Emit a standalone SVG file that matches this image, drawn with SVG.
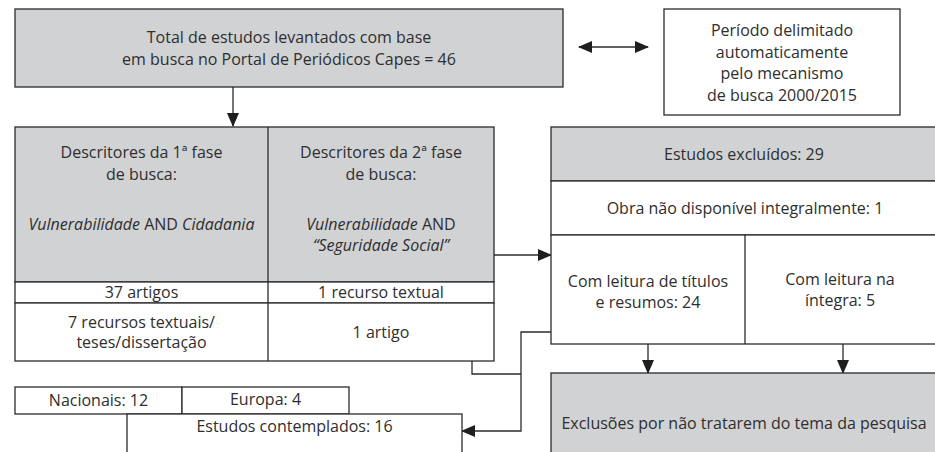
<svg xmlns="http://www.w3.org/2000/svg" width="935" height="452" viewBox="0 0 935 452">
<style>
.box{stroke:#2b2b2b;stroke-width:1.3}
.g{fill:#d1d2d4}
.w{fill:#ffffff}
.ln{stroke:#2b2b2b;stroke-width:1.3;fill:none}
text{font-family:"Open Sans","Liberation Sans",sans-serif;font-size:16px;fill:#2e2e2e;text-anchor:middle}
.i{font-style:italic}
</style>
<defs>
<marker id="ah" markerUnits="userSpaceOnUse" markerWidth="14" markerHeight="12" refX="13" refY="6" orient="auto-start-reverse" viewBox="0 0 14 12">
<path d="M0,0 L14,6 L0,12 z" fill="#1e1e1e"/>
</marker>
</defs>
<rect width="935" height="452" fill="#ffffff"/>

<g id="connectors">
<line class="ln" x1="233" y1="87" x2="233" y2="126" marker-end="url(#ah)"/>
<line class="ln" x1="579" y1="47" x2="648" y2="47" marker-start="url(#ah)" marker-end="url(#ah)"/>
<line class="ln" x1="494" y1="255" x2="551" y2="255" marker-end="url(#ah)"/>
<line class="ln" x1="648" y1="344" x2="648" y2="373" marker-end="url(#ah)"/>
<line class="ln" x1="843" y1="344" x2="843" y2="373" marker-end="url(#ah)"/>
<polyline class="ln" points="472,361 472,374 521,374"/>
<polyline class="ln" points="551,332 521,332 521,431 462,431" marker-end="url(#ah)"/>
</g>

<g id="total">
<rect class="box g" x="15" y="9" width="548" height="78"/>
<text x="289" y="43">Total de estudos levantados com base</text>
<text x="289" y="65">em busca no Portal de Periódicos Capes = 46</text>
</g>

<g id="periodo">
<rect class="box w" x="664" y="9" width="236" height="106"/>
<text x="782" y="36">Período delimitado</text>
<text x="782" y="57.5">automaticamente</text>
<text x="782" y="79">pelo mecanismo</text>
<text x="782" y="100.5">de busca 2000/2015</text>
</g>

<g id="descritores">
<rect class="box g" x="15" y="127" width="479" height="155"/>
<rect class="box w" x="15" y="282" width="479" height="21"/>
<rect class="box w" x="15" y="303" width="479" height="58"/>
<line class="ln" x1="268" y1="127" x2="268" y2="361"/>
<text x="141.5" y="158">Descritores da 1ª fase</text>
<text x="141.5" y="180">de busca:</text>
<text x="141.5" y="230"><tspan class="i">Vulnerabilidade</tspan> AND <tspan class="i">Cidadania</tspan></text>
<text x="381" y="158">Descritores da 2ª fase</text>
<text x="381" y="180">de busca:</text>
<text x="381" y="230"><tspan class="i">Vulnerabilidade</tspan> AND</text>
<text x="381" y="251" class="i">“Seguridade Social”</text>
<text x="141.5" y="298">37 artigos</text>
<text x="381" y="298">1 recurso textual</text>
<text x="141.5" y="328">7 recursos textuais/</text>
<text x="141.5" y="348">teses/dissertação</text>
<text x="381" y="338">1 artigo</text>
</g>

<g id="excluidos">
<rect class="box g" x="551" y="127" width="387" height="54"/>
<rect class="box w" x="551" y="181" width="387" height="54"/>
<rect class="box w" x="551" y="235" width="387" height="109"/>
<line class="ln" x1="745" y1="235" x2="745" y2="344"/>
<text x="744" y="160">Estudos excluídos: 29</text>
<text x="745" y="214">Obra não disponível integralmente: 1</text>
<text x="648" y="287">Com leitura de títulos</text>
<text x="648" y="308">e resumos: 24</text>
<text x="840" y="285">Com leitura na</text>
<text x="840" y="306">íntegra: 5</text>
</g>

<g id="exclusoes">
<rect class="box g" x="551" y="373" width="387" height="90"/>
<text x="744" y="429">Exclusões por não tratarem do tema da pesquisa</text>
</g>

<g id="nacionais">
<rect class="box w" x="15" y="387" width="167" height="27"/>
<text x="98.5" y="406">Nacionais: 12</text>
</g>

<g id="europa">
<rect class="box w" x="182" y="387" width="167" height="27"/>
<text x="265.5" y="405">Europa: 4</text>
</g>

<g id="contemplados">
<rect class="box w" x="127" y="414" width="335" height="50"/>
<text x="294.5" y="432">Estudos contemplados: 16</text>
</g>
</svg>
